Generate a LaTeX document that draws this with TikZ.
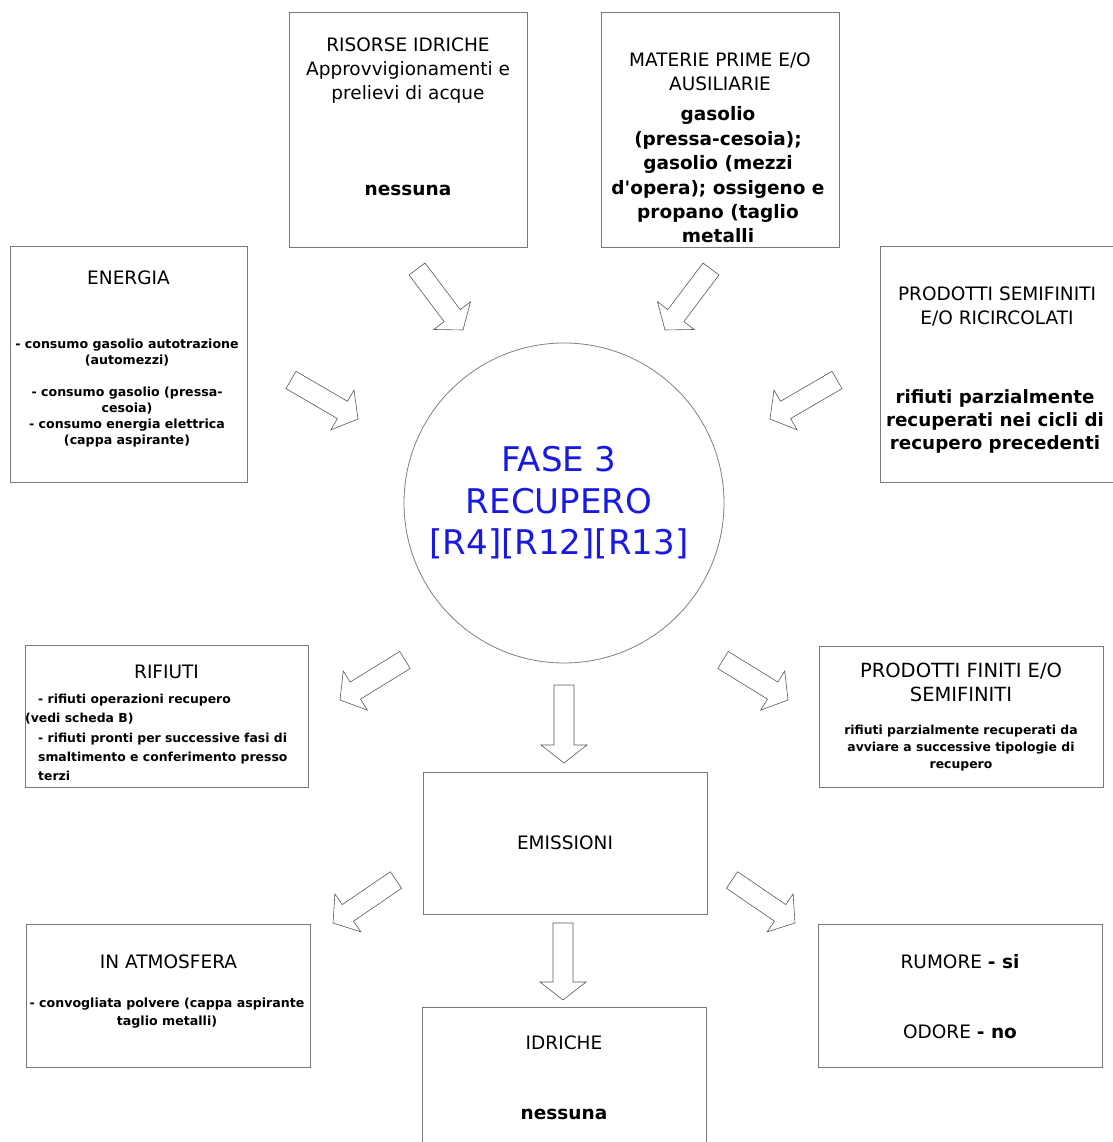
\documentclass[tikz,border=0pt]{standalone}
\usepackage{fontspec}
\setmainfont{DejaVu Sans}[Ligatures=TeXOff]
\usetikzlibrary{calc}
\definecolor{fblue}{RGB}{25,25,225}
\definecolor{bordergray}{RGB}{120,120,120}
\tikzset{
  box/.style={draw=bordergray, line width=0.9pt, fill=white, inner sep=0pt},
  ttl/.style={align=center, inner sep=0pt, font=\fontsize{18.5}{24}\selectfont},
  bigb/.style={align=center, inner sep=0pt, font=\bfseries\fontsize{18.5}{24.4}\selectfont},
  smallb/.style={align=center, inner sep=0pt, font=\bfseries\fontsize{12.6}{16}\selectfont},
  barrow/.style={draw=black!65, line width=0.6pt, fill=white, line join=miter},
  circ/.style={circle, draw=black!50, line width=0.8pt, inner sep=0pt, minimum size=320pt}
}
\newcommand\blockarrow[2]{%
  \draw[barrow] ($(#1)!10pt!90:(#2)$)
    -- ($($(#2)!18pt!(#1)$)!10pt!90:(#2)$)
    -- ($($(#2)!18pt!(#1)$)!23pt!90:(#2)$)
    -- (#2)
    -- ($($(#2)!18pt!(#1)$)!23pt!-90:(#2)$)
    -- ($($(#2)!18pt!(#1)$)!10pt!-90:(#2)$)
    -- ($(#1)!10pt!-90:(#2)$) -- cycle;}
\begin{document}
\begin{tikzpicture}[x=1pt,y=-1pt]
\useasboundingbox[fill=white] (0,0) rectangle (1112,1142);

% ---------- boxes ----------
\node[box, minimum width=238pt, minimum height=235pt] (ris) at (408,129.5) {};
\node[box, minimum width=238pt, minimum height=235pt] (mat) at (720,129.5) {};
\node[box, minimum width=237pt, minimum height=236pt] (ene) at (128.5,364) {};
\node[box, minimum width=234pt, minimum height=236pt] (semi) at (997,364) {};
\node[circ] (fase) at (564,503) {};
\node[box, minimum width=283pt, minimum height=142pt] (rif) at (166.5,716) {};
\node[box, minimum width=284pt, minimum height=141pt] (fin) at (961,716.5) {};
\node[box, minimum width=284pt, minimum height=142pt] (emi) at (565,843) {};
\node[box, minimum width=284pt, minimum height=143pt] (atm) at (168.5,995.5) {};
\node[box, minimum width=284pt, minimum height=143pt] (idr) at (564,1078.5) {};
\node[box, minimum width=284pt, minimum height=143pt] (rum) at (960,995.5) {};

% ---------- texts ----------
\node[ttl] (ristitle) at (408,71) {RISORSE IDRICHE\\Approvvigionamenti e\\prelievi di acque};
\node[bigb] (risbody) at (408,190) {nessuna};

\node[ttl] (mattitle) at (720,72) {MATERIE PRIME E/O\\AUSILIARIE};
\node[bigb] (matbody) at (718,175) {gasolio\\(pressa-cesoia);\\gasolio (mezzi\\d'opera); ossigeno e\\propano (taglio\\metalli};

\node[ttl] (enetitle) at (128.5,278) {ENERGIA};
\node[smallb] (enebody) at (127,393) {- consumo gasolio autotrazione\\(automezzi)\\[16pt]- consumo gasolio (pressa-\\cesoia)\\- consumo energia elettrica\\(cappa aspirante)};

\node[ttl] (semititle) at (997,306) {PRODOTTI SEMIFINITI\\E/O RICIRCOLATI};
\node[bigb, font=\bfseries\fontsize{18.3}{23}\selectfont] (semibody) at (995,421) {rifiuti parzialmente\\recuperati nei cicli di\\recupero precedenti};

\node[text=fblue, align=center, inner sep=0pt, font=\fontsize{34}{41.5}\selectfont] (fasetxt) at (559,503) {FASE 3\\RECUPERO\\{[R4][R12][R13]}};

\node[ttl] (riftitle) at (166.5,672) {RIFIUTI};
\node[align=left, inner sep=0pt, anchor=west, font=\bfseries\fontsize{12.4}{19.3}\selectfont] (rifbody) at (38,737.5)
  {- rifiuti operazioni recupero\\\hspace*{-13pt}(vedi scheda B)\\- rifiuti pronti per successive fasi di\\smaltimento e conferimento presso\\terzi};

\node[ttl, font=\fontsize{19.5}{24}\selectfont] (fintitle) at (961,682) {PRODOTTI FINITI E/O\\SEMIFINITI};
\node[smallb, font=\bfseries\fontsize{12.4}{17}\selectfont] (finbody) at (961,748) {rifiuti parzialmente recuperati da\\avviare a successive tipologie di\\recupero};

\node[ttl] (emitxt) at (565,843) {EMISSIONI};

\node[ttl] (atmtitle) at (168.5,962) {IN ATMOSFERA};
\node[smallb, font=\bfseries\fontsize{12.6}{18}\selectfont] (atmbody) at (167,1013) {- convogliata polvere (cappa aspirante\\taglio metalli)};

\node[ttl] (idrtitle) at (564,1043) {IDRICHE};
\node[bigb] (idrbody) at (564,1114) {nessuna};

\node[ttl] (rumtxt) at (960,962) {RUMORE \textbf{- si}};
\node[ttl] (odotxt) at (960,1032) {ODORE \textbf{- no}};

% ---------- block arrows ----------
\coordinate (aris1) at (417,269); \coordinate (aris2) at (463,330);
\coordinate (amat1) at (711,269); \coordinate (amat2) at (665,330);
\coordinate (aene1) at (291,380); \coordinate (aene2) at (358,419);
\coordinate (asemi1) at (837,380); \coordinate (asemi2) at (770,419);
\coordinate (adn1) at (564,685); \coordinate (adn2) at (564,763);
\coordinate (arif1) at (405,660); \coordinate (arif2) at (340,700);
\coordinate (afin1) at (723,660); \coordinate (afin2) at (788,700);
\coordinate (aatm1) at (396,880); \coordinate (aatm2) at (333,923);
\coordinate (arum1) at (732,880); \coordinate (arum2) at (795,923);
\coordinate (aidr1) at (563,923); \coordinate (aidr2) at (563,1000);

\blockarrow{aris1}{aris2}
\blockarrow{amat1}{amat2}
\blockarrow{aene1}{aene2}
\blockarrow{asemi1}{asemi2}
\blockarrow{adn1}{adn2}
\blockarrow{arif1}{arif2}
\blockarrow{afin1}{afin2}
\blockarrow{aatm1}{aatm2}
\blockarrow{arum1}{arum2}
\blockarrow{aidr1}{aidr2}
\end{tikzpicture}
\end{document}
